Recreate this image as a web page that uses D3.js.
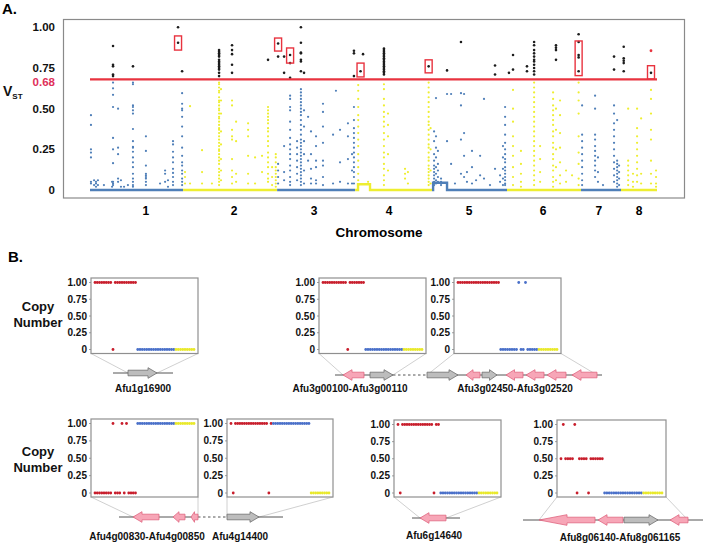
<!DOCTYPE html>
<html>
<head>
<meta charset="utf-8">
<script src="https://cdn.jsdelivr.net/npm/d3@7"></script>
<style>
  body { margin: 0; background: #fff; }
  svg { display: block; font-family: "Liberation Sans", Arial, sans-serif; font-weight: bold; }
</style>
</head>
<body>
<svg id="chart" width="704" height="544"></svg>
<script>
// ---------- Panel A data (positions in Mb, values = VST) ----------
const chromosomes = ['1', '2', '3', '4', '5', '6', '7', '8'];
const chromStart = [0, 4.81, 9.67, 13.70, 17.67, 21.55, 25.37, 27.44];
const chromEnd = [4.81, 9.67, 13.70, 17.67, 21.55, 25.37, 27.44, 29.30];
const chromLabelPos = [2.88, 7.44, 11.58, 15.45, 19.59, 23.41, 26.30, 28.37];
const vstTicks = [0, 0.25, 0.5, 0.75, 1];
const vstTickLabels = ['0', '0.25', '0.50', '0.75', '1.00'];
const vstThreshold = 0.68;
const baselineSteps = [[13.85, 14.47, 0.035], [17.73, 18.45, 0.045]];
const flaggedPoints = [[28.99, 0.856]];
const highlightBoxes = [
    [4.55, 0.86, 0.947], [9.72, 0.854, 0.934], [10.34, 0.78, 0.873], [13.98, 0.695, 0.78],
    [17.50, 0.72, 0.80], [25.25, 0.703, 0.916], [28.99, 0.682, 0.764]
];
const vstColumns = [
    // chr1
    [0.05, [0.46, 0.40, 0.25, 0.23, 0.20, 0.05, 0.04]],
    [0.21, [0.06, 0.03]],
    [0.31, [0.05, 0.04, 0.02]],
    [0.41, [0.06, 0.03]],
    [0.72, [0.03]],
    [1.14, [0.05, 0.02]],
    [1.19, [0.885, 0.77, 0.76, 0.71, 0.70, 0.66, 0.625, 0.585, 0.51, 0.32, 0.25, 0.165, 0.05, 0.04, 0.03]],
    [1.45, [0.50, 0.26, 0.22, 0.07, 0.05]],
    [1.60, [0.06, 0.02]],
    [1.76, [0.02]],
    [1.96, [0.03]],
    [2.22, [0.76, 0.66, 0.65, 0.52, 0.51, 0.49, 0.47, 0.375, 0.30, 0.265, 0.26, 0.235, 0.20, 0.17, 0.14, 0.10, 0.07, 0.05, 0.03, 0.02]],
    [2.89, [0.33, 0.24, 0.15, 0.10, 0.09, 0.08, 0.07, 0.05, 0.03]],
    [3.62, [0.04]],
    [3.88, [0.12, 0.10, 0.05]],
    [4.03, [0.06, 0.02]],
    [4.29, [0.30, 0.28, 0.235, 0.20, 0.17, 0.13, 0.105, 0.08, 0.05, 0.03]],
    [4.55, [1.00, 0.905]],
    [4.76, [0.73, 0.595, 0.53, 0.50, 0.49, 0.45, 0.39, 0.33, 0.26, 0.21, 0.17, 0.15, 0.12, 0.10, 0.07, 0.05, 0.03]],
    // chr2
    [4.91, [0.11, 0.08, 0.04]],
    [5.17, [0.515, 0.04]],
    [5.79, [0.245, 0.11, 0.04]],
    [6.30, [0.04]],
    [6.67, [0.86, 0.85, 0.84, 0.83, 0.82, 0.80, 0.79, 0.78, 0.77, 0.76, 0.75, 0.74, 0.72, 0.70, 0.66, 0.65, 0.63, 0.61, 0.60, 0.57, 0.55, 0.54, 0.52, 0.50, 0.49, 0.47, 0.45, 0.44, 0.42, 0.40, 0.38, 0.37, 0.35, 0.33, 0.31, 0.29, 0.27, 0.25, 0.24, 0.22, 0.20, 0.18, 0.16, 0.13, 0.11, 0.09, 0.07, 0.05, 0.03]],
    [6.77, [0.62, 0.55, 0.47, 0.36, 0.28, 0.19, 0.12, 0.06]],
    [7.34, [0.89, 0.86, 0.835, 0.77, 0.72, 0.55, 0.52, 0.37, 0.33, 0.31, 0.19, 0.12, 0.08, 0.04]],
    [7.55, [0.42, 0.30, 0.10, 0.05]],
    [8.17, [0.41, 0.37, 0.33, 0.21, 0.10, 0.04]],
    [8.53, [0.20, 0.04]],
    [8.89, [0.21, 0.11]],
    [9.20, [0.80, 0.51, 0.49, 0.47, 0.45, 0.43, 0.41, 0.38, 0.36, 0.33, 0.30, 0.27, 0.23, 0.20, 0.17, 0.14, 0.10, 0.07, 0.05]],
    [9.41, [0.14, 0.08, 0.03]],
    [9.60, [0.22, 0.20, 0.17, 0.14, 0.12, 0.10, 0.08, 0.06, 0.04, 0.02]],
    // chr3
    [9.72, [0.90, 0.82, 0.16, 0.12, 0.08, 0.04]],
    [10.03, [0.82, 0.72, 0.27, 0.11, 0.06]],
    [10.34, [0.83, 0.78, 0.69, 0.58, 0.56, 0.51, 0.49, 0.42, 0.37, 0.32, 0.28, 0.25, 0.22, 0.19, 0.15, 0.12, 0.08, 0.05, 0.03]],
    [10.70, [0.30, 0.26, 0.22, 0.18, 0.14, 0.10, 0.06]],
    [10.90, [1.00, 0.905, 0.845, 0.84, 0.80, 0.79, 0.73, 0.62, 0.60, 0.58, 0.56, 0.54, 0.52, 0.50, 0.48, 0.46, 0.43, 0.40, 0.37, 0.34, 0.31, 0.29, 0.27, 0.25, 0.23, 0.21, 0.19, 0.17, 0.15, 0.13, 0.11, 0.09, 0.07, 0.05, 0.03]],
    [11.06, [0.72, 0.49, 0.39, 0.30, 0.22, 0.12, 0.04]],
    [11.27, [0.45, 0.18]],
    [11.42, [0.36, 0.22, 0.13, 0.07, 0.04]],
    [11.68, [0.33, 0.27, 0.18, 0.14, 0.06, 0.04]],
    [12.04, [0.53, 0.48, 0.39, 0.29, 0.18, 0.15, 0.08, 0.03]],
    [12.56, [0.34, 0.04]],
    [12.71, [0.61]],
    [12.92, [0.37, 0.17, 0.05]],
    [13.33, [0.41, 0.33, 0.19, 0.04]],
    [13.54, [0.22, 0.12, 0.04]],
    [13.64, [0.856, 0.84, 0.70, 0.51, 0.43, 0.38, 0.35, 0.32, 0.29, 0.26, 0.23, 0.20, 0.17, 0.14, 0.11, 0.08, 0.04]],
    // chr4
    [13.86, [0.645, 0.61, 0.56, 0.51, 0.46, 0.43, 0.39, 0.35, 0.31, 0.27, 0.22, 0.18, 0.14, 0.10, 0.06, 0.03]],
    [13.98, [0.73]],
    [14.11, [0.835]],
    [14.37, [0.05]],
    [15.19, [0.87, 0.86, 0.85, 0.84, 0.83, 0.82, 0.81, 0.80, 0.79, 0.78, 0.77, 0.76, 0.75, 0.74, 0.73, 0.72, 0.71, 0.65, 0.62, 0.56, 0.52, 0.48, 0.45, 0.42, 0.39, 0.35, 0.31, 0.27, 0.23, 0.20, 0.16, 0.13, 0.09, 0.06, 0.03]],
    [15.40, [0.47, 0.40, 0.33, 0.22, 0.12]],
    [16.28, [0.13, 0.10, 0.07]],
    [16.43, [0.11, 0.04]],
    [17.50, [0.76, 0.66, 0.63, 0.60, 0.57, 0.54, 0.51, 0.48, 0.45, 0.42, 0.40, 0.37, 0.34, 0.31, 0.28, 0.26, 0.23, 0.20, 0.18, 0.15, 0.13, 0.11, 0.09, 0.07, 0.05, 0.03]],
    [17.60, [0.38, 0.25, 0.12, 0.04]],
    // chr5
    [17.78, [0.36, 0.30, 0.22, 0.18, 0.15, 0.13, 0.11, 0.09, 0.07, 0.05, 0.03]],
    [17.88, [0.565, 0.33, 0.26, 0.20, 0.14, 0.10, 0.06, 0.04]],
    [17.98, [0.24, 0.16, 0.12, 0.08, 0.05]],
    [18.14, [0.07, 0.05, 0.03]],
    [18.45, [0.735, 0.59, 0.30, 0.04]],
    [18.66, [0.59, 0.16]],
    [18.86, [0.04]],
    [19.17, [0.91, 0.595, 0.52, 0.31, 0.10]],
    [19.33, [0.59, 0.35, 0.21, 0.08]],
    [19.48, [0.11, 0.05]],
    [19.74, [0.24, 0.14, 0.04]],
    [19.95, [0.06]],
    [20.16, [0.21, 0.09]],
    [20.36, [0.56, 0.07]],
    [20.67, [0.03]],
    [20.93, [0.765, 0.71, 0.13]],
    [21.19, [0.09, 0.05]],
    [21.34, [0.27, 0.20, 0.13, 0.07, 0.03]],
    [21.45, [0.51, 0.45, 0.40, 0.34, 0.29, 0.25, 0.22, 0.19, 0.17, 0.14, 0.12, 0.10, 0.08, 0.06, 0.04, 0.03]],
    // chr6
    [21.65, [0.72]],
    [21.86, [0.83, 0.74, 0.615, 0.50, 0.42, 0.33, 0.27, 0.21, 0.14, 0.08, 0.03]],
    [22.27, [0.24, 0.16, 0.10, 0.05, 0.02]],
    [22.58, [0.76, 0.73]],
    [22.95, [0.91, 0.89, 0.86, 0.84, 0.82, 0.80, 0.79, 0.77, 0.75, 0.73, 0.71, 0.66, 0.63, 0.60, 0.57, 0.54, 0.51, 0.48, 0.45, 0.42, 0.39, 0.36, 0.33, 0.30, 0.27, 0.24, 0.21, 0.18, 0.15, 0.12, 0.09, 0.06, 0.03]],
    [23.26, [0.27, 0.19, 0.11, 0.05]],
    [23.93, [0.60, 0.56, 0.52, 0.49, 0.46, 0.43, 0.40, 0.36, 0.33, 0.29, 0.26, 0.22, 0.19, 0.15, 0.12, 0.08, 0.05, 0.02]],
    [24.08, [0.89, 0.875, 0.86, 0.80, 0.50, 0.37, 0.25, 0.14, 0.06]],
    [24.29, [0.55, 0.46, 0.35, 0.26, 0.17, 0.09, 0.04]],
    [24.60, [0.12, 0.05]],
    [24.91, [0.09]],
    [25.25, [0.957, 0.91, 0.83, 0.815, 0.73, 0.66, 0.60, 0.55, 0.47, 0.33, 0.23, 0.16, 0.07, 0.03]],
    // chr7
    [25.43, [0.52, 0.34, 0.30, 0.26, 0.22, 0.18, 0.14, 0.10, 0.06, 0.03]],
    [26.10, [0.58, 0.50, 0.34, 0.31, 0.27, 0.24, 0.21, 0.18, 0.15, 0.12, 0.08]],
    [26.25, [0.20, 0.11, 0.05]],
    [26.51, [0.03]],
    [27.08, [0.82, 0.74, 0.52, 0.47, 0.41, 0.37, 0.33, 0.29, 0.25, 0.21, 0.17, 0.13, 0.09, 0.05]],
    [27.24, [0.43, 0.18, 0.16, 0.14, 0.12, 0.10, 0.08, 0.06, 0.04, 0.02]],
    [27.34, [0.15, 0.11, 0.07, 0.03]],
    // chr8
    [27.58, [0.88, 0.81, 0.795, 0.78, 0.73]],
    [27.81, [0.50, 0.18, 0.15, 0.12, 0.09, 0.06, 0.03]],
    [28.06, [0.10, 0.05, 0.02]],
    [28.27, [0.50, 0.38, 0.33, 0.29, 0.25, 0.21, 0.17, 0.13, 0.09, 0.05]],
    [28.48, [0.44, 0.10, 0.04]],
    [28.99, [0.72, 0.615, 0.56, 0.47, 0.37, 0.31, 0.18, 0.10, 0.04]],
    [29.25, [0.12, 0.08, 0.04, 0.02]]
];

// ---------- Panel B data ----------
const cnTicks = [0, 0.25, 0.5, 0.75, 1];
const cnTickLabels = ['0', '0.25', '0.50', '0.75', '1.00'];
const cnGroupSizes = [19, 17, 9];
const cnAfu1g16900 = [1,1,1,1,1,1,1,1,0,1,1,1,1,1,1,1,1,1,1, 0,0,0,0,0,0,0,0,0,0,0,0,0,0,0,0,0, 0,0,0,0,0,0,0,0,0];
const cnAfu3g00100 = [1,1,1,1,1,1,1,1,1,1,1,0,1,1,1,1,1,1,1, 0,0,0,0,0,0,0,0,0,0,0,0,0,0,0,0,0, 0,0,0,0,0,0,0,0,0];
const cnAfu3g02450 = [1,1,1,1,1,1,1,1,1,1,1,1,1,1,1,1,1,1,1, 0,0,0,0,0,0,0,0,1,0,0,1,0,0,0,0,0, 0,0,0,0,0,0,0,0,0];
const cnAfu4g00830 = [0,0,0,0,0,0,0,0,1,0,0,0,1,0,1,0,0,0,0, 1,1,1,1,1,1,1,1,1,1,1,1,1,1,1,1,1, 1,1,1,1,1,1,1,1,1];
const cnAfu4g14400 = [1,0,1,1,1,1,1,1,1,1,1,1,1,1,1,1,1,0,1, 1,1,1,1,1,1,1,1,1,1,1,1,1,1,1,1,1, 0,0,0,0,0,0,0,0,0];
const cnAfu6g14640 = [1,0,1,1,1,1,1,1,1,1,1,1,1,1,1,1,0,1,1, 0,0,0,0,0,0,0,0,0,0,0,0,0,0,0,0,0, 0,0,0,0,0,0,0,0,0];
const cnAfu8g06140 = [0.5,1,0.5,0.5,0.5,0.5,1,0,0.5,0.5,0.5,0.5,0,0.5,0.5,0.5,0.5,0.5,0.5, 0,0,0,0,0,0,0,0,0,0,0,0,0,0,0,0,0, 0,0,0,0,0,0,0,0,0];
const cnSeries = [cnAfu1g16900, cnAfu3g00100, cnAfu3g02450, cnAfu4g00830, cnAfu4g14400, cnAfu6g14640, cnAfu8g06140];
// region of the gene track covered by each plot (track units)
const cnSpans = [[12.8, 15.7], [34.3, 39.3], [42.7, 59.7], [13.3, 19.8], [22.7, 25.9], [42.0, 44.6], [53.9, 68.8]];

// gene tracks: [start, end, strand, kind]
const track1Genes = [[12.8, 15.7, 1, 'flank']];
const track1Lines = [[11.3, 17.3]];
const track1Gaps = [];
const track2Genes = [[34.3, 36.4, -1, 'cnv'], [37.0, 39.3, 1, 'flank'], [42.7, 45.8, 1, 'flank'], [46.6, 48.0, -1, 'cnv'],
    [48.2, 49.7, 1, 'flank'], [50.6, 52.3, -1, 'cnv'], [52.6, 54.4, -1, 'cnv'], [54.7, 56.6, -1, 'cnv'], [57.2, 59.7, -1, 'cnv']];
const track2Lines = [[33.5, 39.3], [42.7, 60.2]];
const track2Gaps = [[39.3, 42.7]];
const track3Genes = [[13.3, 15.9, -1, 'cnv'], [17.3, 18.5, -1, 'cnv'], [19.1, 19.8, -1, 'cnv'], [22.7, 25.9, 1, 'flank']];
const track3Lines = [[11.9, 19.8], [22.7, 28.3]];
const track3Gaps = [[19.8, 22.7]];
const track4Genes = [[42.0, 44.6, -1, 'cnv']];
const track4Lines = [[41.2, 46.0]];
const track4Gaps = [];
const track5Genes = [[53.9, 59.5, -1, 'cnv'], [59.8, 62.3, -1, 'cnv'], [62.4, 65.8, 1, 'flank'], [67.0, 68.8, -1, 'cnv']];
const track5Lines = [[52.3, 70.3]];
const track5Gaps = [];

// ---------- colours ----------
const colBlue = '#4f7fb8';
const colYellow = '#eeee30';
const colBlack = '#1c1c1c';
const colRed = '#e8333f';
const colLabelRed = '#e0305a';
const cnColors = ['#c81e2c', '#4a70c9', '#e9e92a'];

const svg = d3.select('#chart');

// ================= Panel A =================
const x = d3.scaleLinear().domain([0, 29.3]).range([90, 657]);
const y = d3.scaleLinear().domain([0, 1]).range([190, 27.3]);
const chromIndex = pos => Math.max(0, d3.bisectRight(chromStart, pos) - 1);

svg.append('text').attr('x', 2).attr('y', 14).attr('font-size', 15).text('A.');

svg.append('rect')
    .attr('x', 63.5).attr('y', 19.5).attr('width', 621).attr('height', 178.5)
    .attr('fill', 'none').attr('stroke', '#8a8a8a').attr('stroke-width', 1.2);

const yAxisA = svg.append('g').attr('font-size', 11.5).attr('text-anchor', 'end');
yAxisA.selectAll('text')
    .data(vstTicks)
    .join('text')
    .attr('x', 55)
    .attr('y', d => y(d))
    .attr('dy', '0.36em')
    .attr('fill', '#111')
    .text((d, i) => vstTickLabels[i]);
// threshold label sits just under the red line so it clears the 0.75 label
yAxisA.append('text')
    .attr('x', 55).attr('y', y(vstThreshold) + 2).attr('dy', '0.36em')
    .attr('fill', colLabelRed)
    .text(d3.format('.2f')(vstThreshold));

const vLabel = svg.append('text').attr('x', 3).attr('y', 96).attr('fill', '#111');
vLabel.append('tspan').attr('font-size', 14).text('V');
vLabel.append('tspan').attr('font-size', 8).attr('dy', 3).text('ST');

svg.append('g').attr('font-size', 12).attr('text-anchor', 'middle')
    .selectAll('text')
    .data(chromosomes)
    .join('text')
    .attr('x', (d, i) => x(chromLabelPos[i]))
    .attr('y', 215)
    .text(d => d);
svg.append('text').attr('x', 379).attr('y', 236.5).attr('text-anchor', 'middle')
    .attr('font-size', 13.5).text('Chromosome');

// baseline of zero values, one strip per chromosome, raised where a step sits
const baselinePath = i => {
    let d = `M${x(chromStart[i])},${y(0)}`;
    baselineSteps
        .filter(s => chromIndex(s[0]) === i)
        .forEach(s => { d += `H${x(s[0])}V${y(s[2])}H${x(s[1])}V${y(0)}`; });
    return d + `H${x(chromEnd[i])}`;
};
svg.append('g').attr('fill', 'none').attr('stroke-width', 2.4)
    .selectAll('path')
    .data(chromosomes)
    .join('path')
    .attr('d', (d, i) => baselinePath(i))
    .attr('stroke', (d, i) => i % 2 === 0 ? colBlue : colYellow);

const vstPoints = vstColumns.flatMap(([pos, vals]) => vals.map(v => ({ pos, v })));
svg.append('g')
    .selectAll('circle')
    .data(vstPoints)
    .join('circle')
    .attr('cx', d => x(d.pos))
    .attr('cy', d => y(d.v))
    .attr('r', d => d.v >= vstThreshold ? 1.3 : 1.1)
    .attr('fill', d => {
        if (d.v >= vstThreshold) return colBlack;
        return chromIndex(d.pos) % 2 === 0 ? colBlue : colYellow;
    });

svg.append('g').selectAll('circle')
    .data(flaggedPoints)
    .join('circle')
    .attr('cx', d => x(d[0])).attr('cy', d => y(d[1])).attr('r', 1.4)
    .attr('fill', colRed);

svg.append('line')
    .attr('x1', x(0)).attr('x2', x(29.3))
    .attr('y1', y(vstThreshold)).attr('y2', y(vstThreshold))
    .attr('stroke', colRed).attr('stroke-width', 2.2);

svg.append('g').selectAll('rect')
    .data(highlightBoxes)
    .join('rect')
    .attr('x', d => x(d[0]) - 3.5)
    .attr('width', 7)
    .attr('y', d => y(d[2]))
    .attr('height', d => y(d[1]) - y(d[2]))
    .attr('fill', 'none')
    .attr('stroke', colRed)
    .attr('stroke-width', 1.4);

// ================= Panel B =================
svg.append('text').attr('x', 8).attr('y', 262).attr('font-size', 15).text('B.');

// frame layout of the small plots: left, top, width, height
const cnFrames = [[91, 278, 107, 75.5], [319, 278, 107, 75.5], [454, 278, 107, 75.5],
    [91, 419, 107, 78], [227, 419, 106, 78], [394, 420, 107, 77], [557, 420, 109, 77]];
const cnTrackOf = [0, 1, 1, 2, 2, 3, 4];
const trackY = [373, 375, 517, 518, 520];
const geneX = d3.scaleLinear().domain([0, 70.4]).range([0, 704]);

const sampleGroup = cnGroupSizes.flatMap((n, g) => d3.range(n).map(() => g));

[[38, 311, 327], [38, 456, 472]].forEach(([cx, y1, y2]) => {
    const t = svg.append('text').attr('text-anchor', 'middle').attr('font-size', 13).attr('fill', '#111');
    t.append('tspan').attr('x', cx).attr('y', y1).text('Copy');
    t.append('tspan').attr('x', cx).attr('y', y2).text('Number');
});

cnSeries.forEach((series, k) => {
    const [left, top, w, h] = cnFrames[k];
    const sx = d3.scaleLinear().domain([0, series.length - 1]).range([left + 4, left + w - 4]);
    const sy = d3.scaleLinear().domain([0, 1]).range([top + h - 4, top + 4.5]);
    const g = svg.append('g');

    // connectors to the gene track
    const ty = trackY[cnTrackOf[k]];
    const span = cnSpans[k];
    g.append('path')
        .attr('fill', 'none').attr('stroke', '#c4c4c4').attr('stroke-width', 0.8)
        .attr('d', `M${left},${top + h}L${geneX(span[0])},${ty}M${left + w},${top + h}L${geneX(span[1])},${ty}`);

    g.append('rect')
        .attr('x', left).attr('y', top).attr('width', w).attr('height', h)
        .attr('fill', '#fff').attr('stroke', '#8f8f8f').attr('stroke-width', 1.2);

    const ax = g.append('g').attr('font-size', 10).attr('text-anchor', 'end').attr('fill', '#111');
    ax.selectAll('text')
        .data(cnTicks)
        .join('text')
        .attr('x', left - 4)
        .attr('y', d => sy(d))
        .attr('dy', '0.36em')
        .text((d, i) => cnTickLabels[i]);
    ax.selectAll('line')
        .data(cnTicks)
        .join('line')
        .attr('x1', left - 2).attr('x2', left)
        .attr('y1', d => sy(d)).attr('y2', d => sy(d))
        .attr('stroke', '#888').attr('stroke-width', 0.8);

    g.append('g')
        .selectAll('circle')
        .data(series)
        .join('circle')
        .attr('cx', (d, i) => sx(i))
        .attr('cy', d => sy(d))
        .attr('r', 1.4)
        .attr('fill', (d, i) => cnColors[sampleGroup[i]]);
});

// gene tracks
const tracks = [
    [track1Genes, track1Lines, track1Gaps],
    [track2Genes, track2Lines, track2Gaps],
    [track3Genes, track3Lines, track3Gaps],
    [track4Genes, track4Lines, track4Gaps],
    [track5Genes, track5Lines, track5Gaps]
];

const arrowPath = (d, ty) => {
    const s = geneX(d[0]), e = geneX(d[1]);
    const len = e - s;
    const hl = len > 40 ? len * 0.5 : Math.min(9, len * 0.5);
    const bh = 2.8, hh = 5.3;
    if (d[2] > 0) {
        return `M${s},${ty - bh}L${e - hl},${ty - bh}L${e - hl},${ty - hh}L${e},${ty}L${e - hl},${ty + hh}L${e - hl},${ty + bh}L${s},${ty + bh}Z`;
    }
    return `M${e},${ty - bh}L${s + hl},${ty - bh}L${s + hl},${ty - hh}L${s},${ty}L${s + hl},${ty + hh}L${s + hl},${ty + bh}L${e},${ty + bh}Z`;
};

tracks.forEach(([genes, lines, gaps], t) => {
    const ty = trackY[t];
    const g = svg.append('g');
    g.selectAll('line.solid')
        .data(lines)
        .join('line')
        .attr('class', 'solid')
        .attr('x1', d => geneX(d[0])).attr('x2', d => geneX(d[1]))
        .attr('y1', ty).attr('y2', ty)
        .attr('stroke', '#555').attr('stroke-width', 1);
    g.selectAll('line.gap')
        .data(gaps)
        .join('line')
        .attr('class', 'gap')
        .attr('x1', d => geneX(d[0])).attr('x2', d => geneX(d[1]))
        .attr('y1', ty).attr('y2', ty)
        .attr('stroke', '#555').attr('stroke-width', 1).attr('stroke-dasharray', '2.5,2.5');
    g.selectAll('path')
        .data(genes)
        .join('path')
        .attr('d', d => arrowPath(d, ty))
        .attr('fill', d => d[3] === 'cnv' ? '#f7a6b7' : '#bdbdbd')
        .attr('stroke', d => d[3] === 'cnv' ? '#e0657f' : '#6f6f6f')
        .attr('stroke-width', 0.8);
});

// gene region labels
const regionLabels = ['Afu1g16900', 'Afu3g00100-Afu3g00110', 'Afu3g02450-Afu3g02520',
    'Afu4g00830-Afu4g00850', 'Afu4g14400', 'Afu6g14640', 'Afu8g06140-Afu8g061165'];
const regionLabelAt = [[143, 392], [350, 392], [515, 392], [147, 540], [240, 540], [434, 539], [620, 541]];
svg.append('g').attr('font-size', 10).attr('text-anchor', 'middle').attr('fill', '#111')
    .selectAll('text')
    .data(regionLabels)
    .join('text')
    .attr('x', (d, i) => regionLabelAt[i][0])
    .attr('y', (d, i) => regionLabelAt[i][1])
    .text(d => d);
</script>
</body>
</html>
